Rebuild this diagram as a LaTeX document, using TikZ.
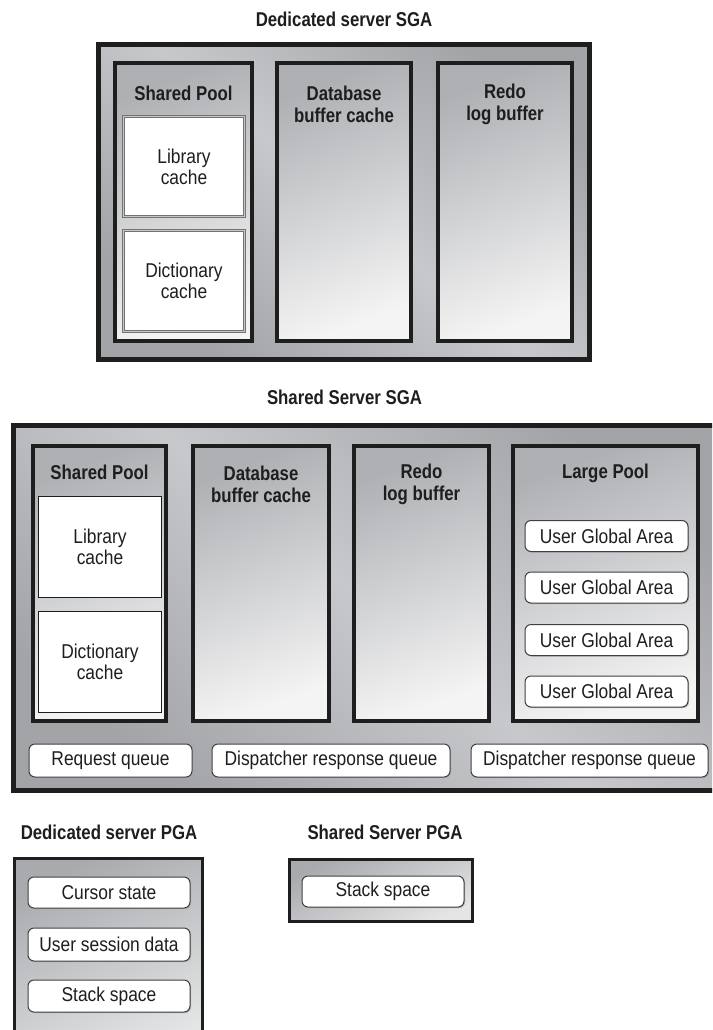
\documentclass[tikz,border=0pt]{standalone}
\usepackage{fontspec}
\setmainfont{Liberation Sans}[FakeStretch=0.87,BoldFeatures={FakeStretch=0.84}]
\usetikzlibrary{shadows}

\definecolor{ink}{HTML}{1E1E1E}
\definecolor{frameDark}{HTML}{A2A4A8}
\definecolor{frameLight}{HTML}{C6C8CB}
\definecolor{colTop}{HTML}{AEB0B4}
\definecolor{colBot}{HTML}{F4F4F4}
\definecolor{pgaTop}{HTML}{A8AAAE}
\definecolor{pgaBot}{HTML}{E4E5E6}

\begin{document}
\begin{tikzpicture}[x=1pt,y=-1pt,
  every node/.style={font=\fontsize{20}{21}\selectfont, text=ink, inner sep=0pt, outer sep=0pt},
  heading/.style={font=\fontsize{20}{22}\selectfont\bfseries, align=center},
  boxtext/.style={font=\fontsize{20}{21}\selectfont, align=center},
  frame/.style={rectangle, draw=ink, line width=5pt, shade,
    left color=frameDark, right color=frameDark, middle color=frameLight, shading angle=-40},
  column/.style={rectangle, draw=ink, line width=3.5pt, shade,
    top color=colTop, bottom color=colBot, shading angle=20},
  pgaframe/.style={rectangle, draw=ink, line width=3pt, shade,
    top color=pgaTop, bottom color=pgaBot, shading angle=25},
  cacheA/.style={rectangle, fill=white, draw=black!55, line width=0.8pt,
    double=black!22, double distance=1.6pt, align=center},
  cacheB/.style={rectangle, fill=white, draw=ink, line width=1.6pt, align=center},
  slot/.style={rectangle, rounded corners=6pt, fill=white, draw=black!75, line width=1pt,
    drop shadow={shadow xshift=1pt, shadow yshift=-1pt, fill=black!35, opacity=0.8},
    minimum height=31pt, align=center},
]
\useasboundingbox (0,0) rectangle (712,1030);
\clip (0,0) rectangle (712,1030);
\fill[white] (0,0) rectangle (712,1030);

% ---------------- Dedicated server SGA ----------------
\node[heading] (dTitle) at (344,19) {Dedicated server SGA};
\node[frame, minimum width=491pt, minimum height=315pt] (dSGA) at (344,202) {};

\node[column, minimum width=137pt, minimum height=278pt] (dPool) at (183.5,202) {};
\node[column, minimum width=134pt, minimum height=278pt] (dBuf) at (344,202) {};
\node[column, minimum width=134pt, minimum height=278pt] (dRedo) at (505,202) {};

\node[heading] (dPoolT) at (183.5,93) {Shared Pool};
\node[heading] (dBufT) at (344,104) {Database\\buffer cache};
\node[heading] (dRedoT) at (505,104) {Redo\\log buffer};

\node[cacheA, minimum width=121pt, minimum height=100pt] (dLib) at (184,166.5) {};
\node[boxtext] (dLibT) at (184,167) {Library\\cache};
\node[cacheA, minimum width=121pt, minimum height=101pt] (dDict) at (184,281) {};
\node[boxtext] (dDictT) at (184,281) {Dictionary\\cache};

% ---------------- Shared server SGA ----------------
\node[heading] (sTitle) at (344.5,397) {Shared Server SGA};
\node[frame, minimum width=716pt, minimum height=365pt] (sSGA) at (371.5,608) {};

\node[column, minimum width=133pt, minimum height=275pt] (sPool) at (99.5,583.5) {};
\node[column, minimum width=136pt, minimum height=275pt] (sBuf) at (261,583.5) {};
\node[column, minimum width=135pt, minimum height=275pt] (sRedo) at (421.5,583.5) {};
\node[column, minimum width=185pt, minimum height=275pt] (sLarge) at (605.5,583.5) {};

\node[heading] (sPoolT) at (99.5,472) {Shared Pool};
\node[heading] (sBufT) at (261,484) {Database\\buffer cache};
\node[heading] (sRedoT) at (421.5,484) {Redo\\log buffer};
\node[heading] (sLargeT) at (605.5,473) {Large Pool};

\node[cacheB, minimum width=123pt, minimum height=101pt] (sLib) at (100,547) {};
\node[boxtext] (sLibT) at (100,547) {Library\\cache};
\node[cacheB, minimum width=123pt, minimum height=101pt] (sDict) at (100,662) {};
\node[boxtext] (sDictT) at (100,662) {Dictionary\\cache};

\node[slot, minimum width=163pt] (uga1) at (606.5,536) {User Global Area};
\node[slot, minimum width=163pt] (uga2) at (606.5,587.5) {User Global Area};
\node[slot, minimum width=163pt] (uga3) at (606.5,640) {User Global Area};
\node[slot, minimum width=163pt] (uga4) at (606.5,691.5) {User Global Area};

\node[slot, minimum width=163pt, minimum height=33pt] (reqQ) at (110.5,760.5) {Request queue};
\node[slot, minimum width=238pt, minimum height=33pt] (dispQ1) at (331,760.5) {Dispatcher response queue};
\node[slot, minimum width=237pt, minimum height=33pt] (dispQ2) at (589.5,760.5) {Dispatcher response queue};

% ---------------- Dedicated server PGA ----------------
\node[heading] (dpTitle) at (109,832) {Dedicated server PGA};
\node[pgaframe, minimum width=188pt, minimum height=200pt] (dPGA) at (108.5,958.5) {};
\node[slot, minimum width=162pt] (cursor) at (109,892.5) {Cursor state};
\node[slot, minimum width=162pt, minimum height=33pt] (session) at (109,944.5) {User session data};
\node[slot, minimum width=162pt, minimum height=32pt] (dStack) at (109,996) {Stack space};

% ---------------- Shared server PGA ----------------
\node[heading] (spTitle) at (385,832) {Shared Server PGA};
\node[pgaframe, minimum width=183pt, minimum height=62pt] (sPGA) at (381,890.5) {};
\node[slot, minimum width=162pt] (sStack) at (383,891.5) {Stack space};
\end{tikzpicture}
\end{document}
